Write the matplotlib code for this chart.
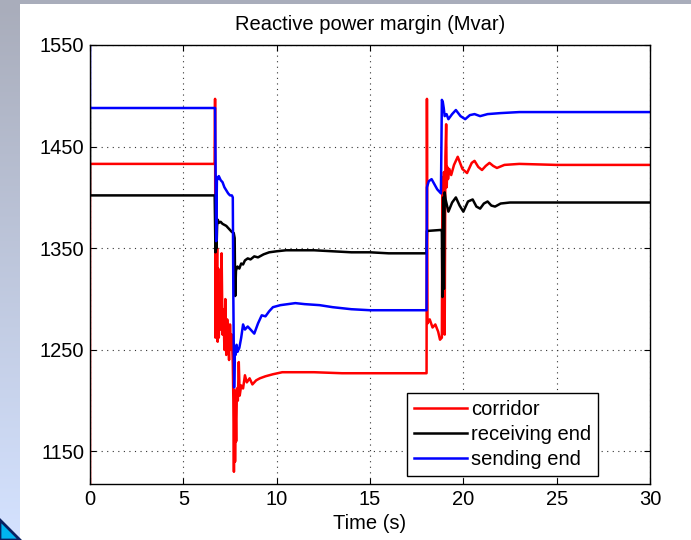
#!/usr/bin/env python3
from __future__ import annotations

import matplotlib
import numpy as np

matplotlib.use("Agg")
import matplotlib.pyplot as plt
from matplotlib.patches import Polygon, Rectangle

plt.rcParams["font.family"] = ["Liberation Sans", "DejaVu Sans"]

# corridor (red)
CORRIDOR_T = [0, 0, 6.68, 6.70, 6.72, 6.75, 6.78, 6.81, 6.84, 6.87, 6.90, 6.95, 7.00, 7.05, 7.10,
              7.15, 7.20, 7.25, 7.30, 7.35, 7.40, 7.45, 7.50, 7.55, 7.60, 7.65, 7.68, 7.71, 7.74,
              7.77, 7.80, 7.83, 7.87, 7.92, 7.97, 8.02, 8.1, 8.2, 8.3, 8.4, 8.55, 8.7, 8.9, 9.1,
              9.4, 9.8, 10.3, 11, 12, 13.5, 15, 16.5, 18.03, 18.05, 18.08, 18.2, 18.35, 18.5,
              18.65, 18.75, 18.85, 18.88, 18.92, 18.96, 19.0, 19.04, 19.08, 19.11, 19.14, 19.18,
              19.25, 19.35, 19.5, 19.7, 19.95, 20.2, 20.45, 20.6, 20.8, 21.0, 21.2, 21.4, 21.6,
              21.8, 22.2, 23, 25, 30]
CORRIDOR_V = [1110, 1433, 1433, 1497, 1262, 1420, 1275, 1350, 1258, 1330, 1262, 1300, 1270, 1345,
              1265, 1290, 1250, 1300, 1245, 1280, 1262, 1240, 1275, 1250, 1265, 1236, 1200, 1130,
              1210, 1140, 1190, 1160, 1212, 1200, 1238, 1205, 1215, 1212, 1225, 1218, 1222, 1216,
              1220, 1222, 1224, 1226, 1228, 1228, 1228, 1227, 1227, 1227, 1227, 1497, 1276, 1280,
              1272, 1275, 1268, 1260, 1262, 1420, 1300, 1425, 1265, 1440, 1472, 1410, 1430, 1418,
              1428, 1422, 1432, 1440, 1428, 1424, 1434, 1436, 1430, 1427, 1431, 1434, 1431, 1429,
              1432, 1433, 1432, 1432]

# receiving end (black)
RECEIVING_T = [0, 0, 6.68, 6.72, 6.75, 6.78, 6.81, 6.85, 6.9, 7.0, 7.1, 7.2, 7.3, 7.4, 7.5, 7.6,
               7.7, 7.75, 7.78, 7.82, 7.9, 8.0, 8.1, 8.2, 8.3, 8.45, 8.6, 8.8, 9.0, 9.3, 9.6, 10.0,
               10.5, 11, 12, 13, 14, 15, 16, 17, 18.03, 18.05, 18.8, 18.85, 18.88, 18.92, 18.96,
               19.0, 19.05, 19.2, 19.4, 19.6, 19.8, 20.0, 20.25, 20.5, 20.7, 20.9, 21.1, 21.3,
               21.5, 21.7, 22.0, 22.5, 24, 30]
RECEIVING_V = [1488, 1402, 1402, 1346, 1380, 1350, 1372, 1378, 1375, 1376, 1374, 1373, 1372, 1370,
               1368, 1366, 1365, 1360, 1303, 1328, 1332, 1330, 1335, 1334, 1338, 1340, 1339, 1342,
               1341, 1344, 1346, 1347, 1348, 1348, 1348, 1347, 1346, 1346, 1345, 1345, 1345, 1367,
               1368, 1367, 1302, 1400, 1310, 1405, 1398, 1386, 1395, 1400, 1392, 1386, 1396, 1398,
               1391, 1389, 1394, 1396, 1392, 1391, 1394, 1395, 1395, 1395]

# sending end (blue)
SENDING_T = [0, 0, 6.70, 6.76, 6.80, 6.85, 6.9, 7.0, 7.1, 7.2, 7.3, 7.4, 7.5, 7.6, 7.65, 7.68,
             7.72, 7.76, 7.8, 7.85, 7.9, 7.95, 8.0, 8.1, 8.2, 8.3, 8.45, 8.6, 8.8, 9.0, 9.2, 9.4,
             9.6, 9.8, 10.2, 10.6, 11.0, 11.5, 12.3, 13, 14, 15, 16, 17, 18.03, 18.05, 18.15,
             18.3, 18.45, 18.6, 18.8, 18.85, 18.9, 18.95, 19.0, 19.1, 19.2, 19.4, 19.6, 19.85,
             20.1, 20.35, 20.6, 20.9, 21.3, 22, 23, 30]
SENDING_V = [1560, 1488, 1488, 1357, 1420, 1418, 1421, 1417, 1415, 1410, 1407, 1404, 1402, 1402,
             1400, 1300, 1213, 1250, 1245, 1255, 1248, 1250, 1252, 1262, 1275, 1270, 1273, 1270,
             1266, 1276, 1284, 1283, 1288, 1292, 1294, 1295, 1296, 1295, 1294, 1292, 1290, 1289,
             1289, 1289, 1289, 1410, 1416, 1418, 1413, 1408, 1404, 1496, 1494, 1488, 1480, 1482,
             1477, 1482, 1486, 1480, 1477, 1481, 1482, 1480, 1482, 1483, 1484, 1484]

SERIES = [
    ("corridor", CORRIDOR_T, CORRIDOR_V, "#ff0000"),
    ("receiving end", RECEIVING_T, RECEIVING_V, "#000000"),
    ("sending end", SENDING_T, SENDING_V, "#0000ff"),
]
X_TICKS = [0, 5, 10, 15, 20, 25, 30]
Y_TICKS = [1150, 1250, 1350, 1450, 1550]

W, H = 691, 540
FONT = 14.5


def slide_background(fig) -> None:
    # slide decoration around the figure
    fig.patches.append(Rectangle((0, 1 - 4 / H), 1, 4 / H, transform=fig.transFigure,
                                 facecolor="#a9adbb", edgecolor="none", zorder=0))
    grad = fig.add_axes([0, 0, 20 / W, 1 - 4 / H], zorder=0)
    ramp = np.linspace(0, 1, 256)[:, None]
    cmap = matplotlib.colors.LinearSegmentedColormap.from_list("strip", ["#a9adbb", "#d4e2ff"])
    grad.imshow(ramp, aspect="auto", cmap=cmap, extent=[0, 1, 0, 1])
    grad.set_axis_off()
    fig.patches.append(Polygon([(0, 20 / H), (20 / W, 0), (0, 0)], closed=True,
                               transform=fig.transFigure, facecolor="#00b4f0",
                               edgecolor="#0a2060", linewidth=2, zorder=1))


def main() -> int:
    fig = plt.figure(figsize=(W / 100, H / 100), dpi=100)
    slide_background(fig)
    ax = fig.add_axes([90 / W, 1 - 484 / H, 560 / W, 439 / H])
    for label, t, v, color in SERIES:
        ax.plot(t, v, color=color, linewidth=1.8, label=label)
    ax.set_xlim(0, 30)
    ax.set_ylim(1118, 1550)
    ax.set_xticks(X_TICKS)
    ax.set_yticks(Y_TICKS)
    ax.grid(True, linestyle=(0, (1, 4)), color="#333333", linewidth=0.8)
    ax.tick_params(direction="in", top=True, right=True, length=4, labelsize=FONT, pad=4)
    for spine in ax.spines.values():
        spine.set_linewidth(1.0)
    ax.set_title("Reactive power margin (Mvar)", fontsize=FONT, pad=11)
    ax.set_xlabel("Time (s)", fontsize=FONT, labelpad=4)
    leg = ax.legend(loc="lower right", bbox_to_anchor=(0.907, 0.018), fontsize=FONT,
                    fancybox=False, framealpha=1, edgecolor="#000000", handlelength=2.6,
                    handletextpad=0.2, labelspacing=0.3, borderpad=0.35, borderaxespad=0)
    leg.get_frame().set_linewidth(1.0)
    fig.savefig("out.png", dpi=100)
    plt.close(fig)
    return 0


if __name__ == "__main__":
    raise SystemExit(main())
